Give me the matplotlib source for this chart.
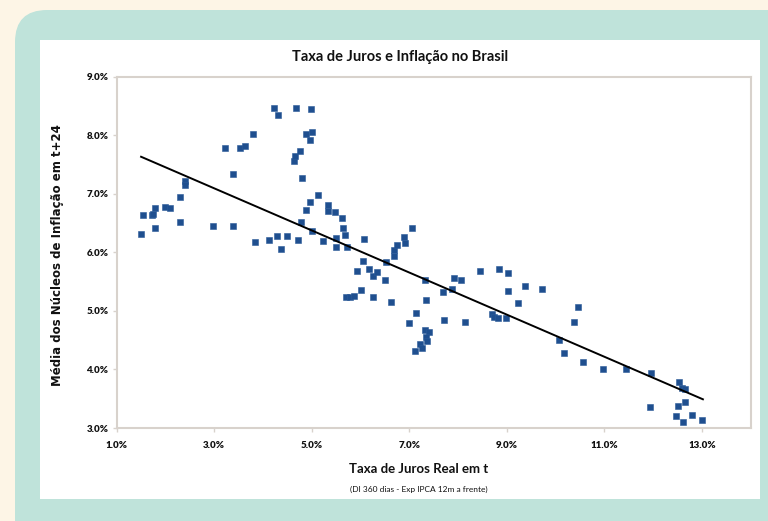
import matplotlib
matplotlib.use("Agg")
import matplotlib.pyplot as plt
from matplotlib.patches import FancyBboxPatch, Rectangle
from matplotlib.transforms import IdentityTransform
from matplotlib.ticker import FuncFormatter

# taxa de juros real em t (%)
juros = [1.49, 1.53, 1.72, 1.74, 1.78, 1.78, 1.99, 2.09, 2.30, 2.30,
         2.40, 2.41, 2.97, 3.22, 3.39, 3.38, 3.53, 3.63, 3.79, 3.83,
         4.12, 4.23, 4.30, 4.28, 4.36, 4.49, 4.68, 4.64, 4.65, 4.75,
         4.71, 4.80, 4.77, 4.88, 4.96, 4.89, 4.97, 5.01, 4.99, 5.01,
         5.13, 5.23, 5.33, 5.34, 5.48, 5.49, 5.50, 5.61, 5.65, 5.68,
         5.73, 6.08, 6.06, 5.93, 6.17, 6.26, 6.34, 6.51, 6.52, 6.68,
         6.69, 6.74, 6.89, 6.92, 7.05, 7.91, 8.05, 8.44, 8.83, 9.02,
         6.00, 5.71, 5.78, 5.87, 6.26, 6.62, 7.33, 7.35, 7.13, 6.99,
         7.33, 7.40, 7.35, 7.36, 7.21, 7.27, 7.12, 7.69, 7.72, 7.88,
         8.14, 8.69, 8.73, 8.81, 9.02, 8.99, 9.22, 9.38, 9.73, 10.06,
         10.17, 10.45, 10.38, 10.56, 10.98, 11.45, 11.96, 11.94, 12.52, 12.60,
         12.65, 12.65, 12.50, 12.46, 12.62, 12.80, 13.01]

# media dos nucleos de inflacao em t+24 (%)
inflacao = [6.31, 6.63, 6.63, 6.66, 6.75, 6.42, 6.77, 6.75, 6.95, 6.51,
            7.21, 7.15, 6.45, 7.78, 7.34, 6.44, 7.78, 7.82, 8.02, 6.17,
            6.21, 8.47, 8.35, 6.27, 6.05, 6.27, 8.46, 7.55, 7.64, 7.72,
            6.21, 7.27, 6.51, 6.72, 6.86, 8.02, 7.92, 8.06, 8.44, 6.36,
            6.98, 6.20, 6.81, 6.71, 6.68, 6.25, 6.09, 6.58, 6.41, 6.29,
            6.09, 6.23, 5.85, 5.68, 5.71, 5.59, 5.67, 5.53, 5.83, 5.94,
            6.03, 6.13, 6.26, 6.16, 6.42, 5.56, 5.53, 5.68, 5.71, 5.65,
            5.36, 5.24, 5.23, 5.26, 5.23, 5.15, 5.53, 5.18, 4.96, 4.79,
            4.68, 4.64, 4.56, 4.48, 4.43, 4.37, 4.31, 5.32, 4.84, 5.38,
            4.81, 4.94, 4.90, 4.87, 5.34, 4.88, 5.13, 5.43, 5.37, 4.50,
            4.28, 5.07, 4.81, 4.13, 4.01, 4.00, 3.94, 3.36, 3.79, 3.68,
            3.67, 3.44, 3.37, 3.21, 3.11, 3.22, 3.14]

# linha de tendencia
tend_x = [1.50, 13.02]
tend_y = [7.63, 3.49]

x_ticks = [1, 3, 5, 7, 9, 11, 13]
y_ticks = [3, 4, 5, 6, 7, 8, 9]

W, H = 768, 521
fig = plt.figure(figsize=(W / 100, H / 100), dpi=100)
fig.patch.set_facecolor("#fdf5e6")

# painel verde arredondado e area branca (em pixels)
fig.patches.append(FancyBboxPatch((15, -40), 800, H - 10 + 40,
                                  boxstyle="round,pad=0,rounding_size=32",
                                  fc="#bfe3da", ec="none", zorder=-2,
                                  transform=IdentityTransform(), figure=fig))
fig.patches.append(Rectangle((40, H - 499), 720, 459, fc="white", ec="none",
                             zorder=-1, transform=IdentityTransform(), figure=fig))

ax = fig.add_axes([116.7 / W, (H - 428) / H, (750.7 - 116.7) / W, (428 - 76.5) / H])
ax.set_facecolor("white")

ax.plot(juros, inflacao, "s", color="#1f4f8f", markersize=4.5,
        markeredgecolor="#2a5a98", markeredgewidth=0.4, zorder=2)
ax.plot(tend_x, tend_y, color="black", linewidth=1.4, zorder=3)

ax.set_xlim(1, 14)
ax.set_ylim(3, 9)
ax.set_xticks(x_ticks)
ax.set_yticks(y_ticks)
fmt = FuncFormatter(lambda v, p: "%.1f%%" % v)
ax.xaxis.set_major_formatter(fmt)
ax.yaxis.set_major_formatter(fmt)

for s in ax.spines.values():
    s.set_color("#d8d2cc")
    s.set_linewidth(1.5)
ax.tick_params(direction="out", length=3, width=1, color="#d8d2cc",
               labelsize=7, labelcolor="#111111")
ax.tick_params(axis="x", pad=6)
ax.tick_params(axis="y", pad=3)
for lab in ax.get_xticklabels() + ax.get_yticklabels():
    lab.set_fontfamily("Lato")
    lab.set_fontweight("heavy")

fig.text(400 / W, (H - 57) / H, "Taxa de Juros e Inflação no Brasil",
         ha="center", va="center", fontsize=10.5, fontweight="bold",
         family="Lato", color="#111111")
fig.text(419 / W, (H - 469) / H, "Taxa de Juros Real em t",
         ha="center", va="center", fontsize=9.5, fontweight="bold",
         family="Lato", color="#111111")
fig.text(419 / W, (H - 489) / H, "(DI 360 dias - Exp IPCA 12m a frente)",
         ha="center", va="center", fontsize=6, family="Lato", color="#111111")
fig.text(58 / W, (H - 255) / H, "Média dos Núcleos de Inflação em t+24",
         ha="center", va="center", rotation=90, fontsize=8.5,
         fontweight="bold", family="DejaVu Sans", color="#111111")

plt.savefig("out.png", dpi=100, facecolor=fig.get_facecolor())
